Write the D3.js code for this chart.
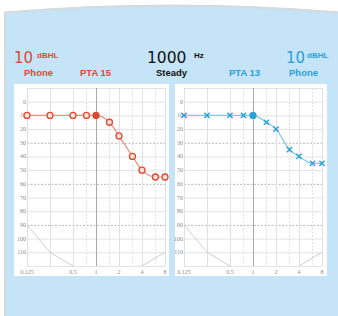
<!DOCTYPE html>
<html>
<head>
<meta charset="utf-8">
<script src="https://cdn.jsdelivr.net/npm/d3@7"></script>
<style>
  html, body { margin: 0; padding: 0; background: #ffffff; }
  svg { display: block; }
</style>
</head>
<body>
<svg id="chart" width="338" height="316"></svg>
<script>
// audiogram data
const freqs = [0.125, 0.25, 0.5, 0.75, 1, 1.5, 2, 3, 4, 6, 8];
const leftDb = [10, 10, 10, 10, 10, 15, 25, 40, 50, 55, 55];
const rightDb = [10, 10, 10, 10, 10, 15, 20, 35, 40, 45, 45];
const xTickVals = [0.125, 0.5, 1, 2, 4, 8];
const xTickLabels = ["0.125", "0.5", "1", "2", "4", "8"];
const yTickVals = [0, 10, 20, 30, 40, 50, 60, 70, 80, 90, 100, 110];
const limitLowF = [0.125, 0.25, 0.5];
const limitLowDb = [90, 110, 120];
const limitHighF = [4, 8];
const limitHighDb = [120, 110];

const red = "#dc4a33", redLine = "#f0907e";
const blue = "#2a9fd9", blueLine = "#82c8ec";

const svg = d3.select("#chart");

// background frame with curved top
svg.append("path")
  .attr("d", "M4,316 L4,12 Q171,-2 340,12 L340,316 Z")
  .attr("fill", "#c6e4f7");
svg.append("path")
  .attr("d", "M5,316 L5,12.5 Q171,-1.5 340,12.5")
  .attr("fill", "none")
  .attr("stroke", "#d6dadd")
  .attr("stroke-width", 2);

// header
const hdr = svg.append("g").attr("font-family", "'DejaVu Sans', sans-serif");
function txt(x, y, s, size, color, weight, fam) {
  hdr.append("text").attr("x", x).attr("y", y).text(s)
    .attr("font-size", size).attr("fill", color)
    .attr("font-weight", weight || "normal")
    .attr("font-family", fam || null);
}
const small = "'Liberation Sans', Arial, sans-serif";
txt(14, 63, "10", 15, red);
txt(37, 58, "dBHL", 8, red, "bold", small);
txt(24, 76, "Phone", 9.5, red, "bold", small);
txt(80, 76, "PTA 15", 9.5, red, "bold", small);
txt(147, 63, "1000", 15.5, "#111");
txt(194, 58, "Hz", 8, "#111", "bold", small);
txt(156, 76, "Steady", 9.5, "#111", "bold", small);
txt(229, 76, "PTA 13", 9.5, blue, "bold", small);
txt(286, 63, "10", 15, blue);
txt(307, 58, "dBHL", 8, blue, "bold", small);
txt(289, 76, "Phone", 9.5, blue, "bold", small);

function panel(px, pw, x0, x1, values, color, lineColor, marker) {
  svg.append("rect").attr("x", px).attr("y", 84).attr("width", pw).attr("height", 192)
    .attr("fill", "#ffffff");

  const x = d3.scaleLog().base(2).domain([0.125, 8]).range([x0, x1]);
  const y = d3.scaleLinear().domain([-10, 120]).range([88, 266]);
  const g = svg.append("g");

  // horizontal grid
  g.selectAll("line.h").data(d3.range(-10, 121, 10)).enter().append("line")
    .attr("x1", x0).attr("x2", x1)
    .attr("y1", d => y(d) + 0.5).attr("y2", d => y(d) + 0.5)
    .attr("stroke", d => (d === 30 || d === 60 || d === 90) ? "#b8b8b8" : "#e3e3e3")
    .attr("stroke-dasharray", d => (d === 30 || d === 60 || d === 90) ? "2,1.5" : null)
    .attr("stroke-width", 1);

  // vertical grid
  g.selectAll("line.v").data(freqs).enter().append("line")
    .attr("x1", d => Math.round(x(d)) + 0.5).attr("x2", d => Math.round(x(d)) + 0.5)
    .attr("y1", y(-10)).attr("y2", y(120))
    .attr("stroke", d => d === 1 ? "#a8a8a8" : "#e0e0e0")
    .attr("stroke-dasharray", d => xTickVals.includes(d) || d === 0.25 ? null : "2,1.5")
    .attr("stroke-width", 1);

  // y labels
  g.selectAll("text.y").data(yTickVals).enter().append("text")
    .attr("x", x0 - 1).attr("y", d => y(d) + 2)
    .attr("text-anchor", "end")
    .attr("font-family", "'Liberation Serif', serif")
    .attr("font-size", 6).attr("fill", "#8a8a8a")
    .text(d => d);

  // x labels
  g.selectAll("text.x").data(xTickVals).enter().append("text")
    .attr("x", d => x(d)).attr("y", 274)
    .attr("text-anchor", "middle")
    .attr("font-family", "'Liberation Serif', serif")
    .attr("font-size", 6).attr("fill", "#8a8a8a")
    .text((d, i) => xTickLabels[i]);

  // limit curve
  const lim = d3.line().x(d => x(d[0])).y(d => y(d[1]));
  g.append("path").datum(limitLowF.map((f, i) => [f, limitLowDb[i]]))
    .attr("d", lim).attr("fill", "none").attr("stroke", "#cfcfcf").attr("stroke-width", 1);
  g.append("path").datum(limitHighF.map((f, i) => [f, limitHighDb[i]]))
    .attr("d", lim).attr("fill", "none").attr("stroke", "#cfcfcf").attr("stroke-width", 1);

  // data line
  const pts = freqs.map((f, i) => [f, values[i]]);
  g.append("path").datum(pts)
    .attr("d", d3.line().x(d => x(d[0])).y(d => y(d[1])).curve(d3.curveMonotoneX))
    .attr("fill", "none").attr("stroke", lineColor).attr("stroke-width", 1.2);

  // markers
  pts.forEach(d => {
    const cx = x(d[0]), cy = y(d[1]);
    if (d[0] === 1) {
      g.append("circle").attr("cx", cx).attr("cy", cy).attr("r", 3.6).attr("fill", color);
    } else if (marker === "o") {
      g.append("circle").attr("cx", cx).attr("cy", cy).attr("r", 3)
        .attr("fill", "#fbe3dd").attr("stroke", color).attr("stroke-width", 1.3);
    } else {
      const s = 2.6;
      g.append("path")
        .attr("d", `M${cx - s},${cy - s}L${cx + s},${cy + s}M${cx - s},${cy + s}L${cx + s},${cy - s}`)
        .attr("stroke", color).attr("stroke-width", 1.4).attr("fill", "none");
    }
  });
}

panel(14, 155, 27, 165, leftDb, red, redLine, "o");
panel(175, 152, 184, 322, rightDb, blue, blueLine, "x");
</script>
</body>
</html>
